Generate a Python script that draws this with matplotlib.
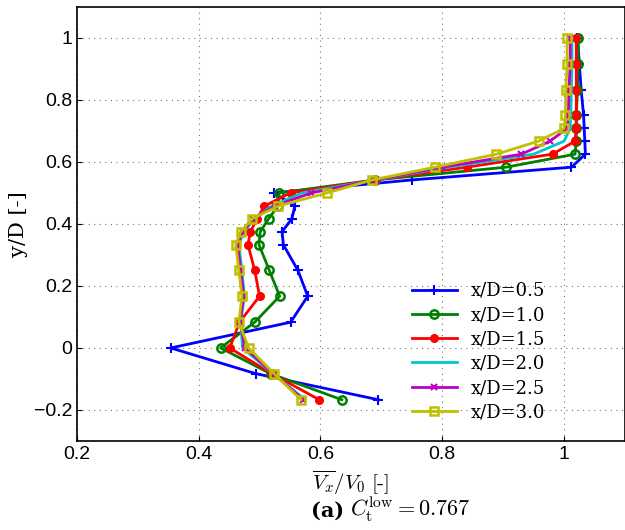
import matplotlib
matplotlib.use("Agg")
import matplotlib.pyplot as plt

y = [1.0, 0.917, 0.833, 0.75, 0.708, 0.667, 0.625, 0.583, 0.542, 0.5, 0.458, 0.417,
     0.375, 0.333, 0.25, 0.167, 0.083, 0.0, -0.083, -0.167]
blue = [1.022, 1.025, 1.028, 1.032, 1.033, 1.034, 1.035, 1.012, 0.751, 0.523, 0.558, 0.553,
        0.537, 0.539, 0.563, 0.579, 0.551, 0.354, 0.494, 0.695]
green = [1.023, 1.023, 1.022, 1.02, 1.02, 1.02, 1.018, 0.905, 0.69, 0.532, 0.53, 0.515,
         0.501, 0.499, 0.516, 0.533, 0.492, 0.436, 0.518, 0.635]
red = [1.02, 1.02, 1.02, 1.02, 1.02, 1.018, 0.981, 0.84, 0.69, 0.551, 0.508, 0.496,
       0.485, 0.481, 0.492, 0.5, 0.467, 0.451, 0.52, 0.598]
cyan = [1.013, 1.013, 1.012, 1.011, 1.01, 1.0, 0.95, 0.81, 0.69, 0.57, 0.52, 0.492,
        0.474, 0.466, 0.471, 0.475, 0.469, 0.472, 0.522, 0.575]
magenta = [1.01, 1.01, 1.008, 1.007, 1.005, 0.977, 0.93, 0.80, 0.69, 0.585, 0.525, 0.49,
           0.472, 0.464, 0.469, 0.474, 0.468, 0.476, 0.523, 0.572]
yellow = [1.005, 1.005, 1.003, 1.002, 1.0, 0.958, 0.889, 0.788, 0.685, 0.611, 0.531, 0.488,
          0.469, 0.461, 0.466, 0.471, 0.466, 0.482, 0.524, 0.568]
labels = ["x/D=0.5", "x/D=1.0", "x/D=1.5", "x/D=2.0", "x/D=2.5", "x/D=3.0"]

plt.rcParams['font.family'] = ['Liberation Sans', 'DejaVu Sans']
plt.rcParams['mathtext.fontset'] = 'cm'

fig = plt.figure(figsize=(6.25, 5.3), dpi=100)
ax = fig.add_axes([0.123, 0.168, 0.877, 0.819])

series = [blue, green, red, cyan, magenta, yellow]
colors = ['#0000ff', '#008000', '#ff0000', '#00c8c8', '#c000c0', '#c0c000']
styles = [dict(marker='+', ms=7, mew=1.5),
          dict(marker='o', ms=6, mfc='none', mew=1.8),
          dict(marker='o', ms=5.5),
          dict(marker=None),
          dict(marker='x', ms=4, mew=1.5),
          dict(marker='s', ms=6, mfc='none', mew=1.8)]
for s, c, st, lab in zip(series, colors, styles, labels):
    ax.plot(s, y, color=c, lw=2, label=lab, **st)

ax.set_xlim(0.2, 1.1)
ax.set_ylim(-0.3, 1.1)
ax.set_xticks([0.2, 0.4, 0.6, 0.8, 1.0])
ax.set_xticklabels(['0.2', '0.4', '0.6', '0.8', '1'])
ax.set_yticks([-0.2, 0, 0.2, 0.4, 0.6, 0.8, 1.0])
ax.set_yticklabels(['\u22120.2', '0', '0.2', '0.4', '0.6', '0.8', '1'])
ax.tick_params(labelsize=14, direction='in')
ax.grid(True, linestyle=(0, (1, 4)), color='#777777', lw=0.8)
for sp in ax.spines.values():
    sp.set_linewidth(1.2)

ax.set_xlabel(r'$\overline{V_x}/V_0\ [\text{-}]$', fontsize=15, labelpad=4)
ax.set_ylabel('y/D [-]', fontsize=15, family=['DejaVu Serif'])

leg = ax.legend(loc='lower right', bbox_to_anchor=(0.875, 0.02), frameon=False,
                prop={'family': 'DejaVu Serif', 'size': 13}, handlelength=2.5,
                labelspacing=0.35, borderaxespad=0.2)

fig.text(0.55, 0.025, r'(a)', fontsize=15, fontweight='bold', ha='right',
         family=['DejaVu Serif'])
fig.text(0.56, 0.025, r'$C_{\rm t}^{\rm low} = 0.767$', fontsize=16, ha='left')

fig.savefig('out.png', dpi=100)
